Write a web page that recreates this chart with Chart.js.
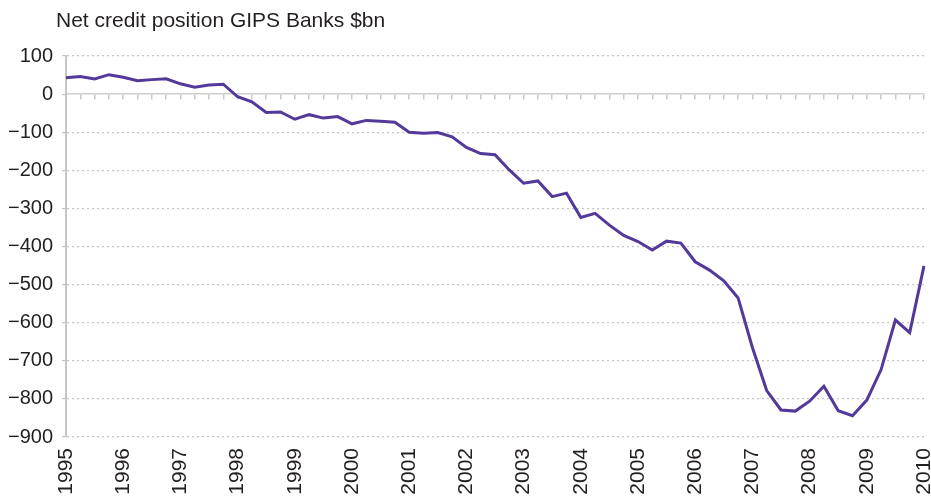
<!DOCTYPE html>
<html>
<head>
<meta charset="utf-8">
<script src="https://cdn.jsdelivr.net/npm/chart.js@4/dist/chart.umd.min.js"></script>
<style>
  html, body { margin: 0; padding: 0; background: #fff; }
  #wrap { position: relative; width: 931px; height: 499px; }
</style>
</head>
<body>
<div id="wrap"><canvas id="chart"></canvas></div>
<script>
// tick labels on the x axis (one per year, data is quarterly)
const years = ['1995', '1996', '1997', '1998', '1999', '2000', '2001', '2002',
  '2003', '2004', '2005', '2006', '2007', '2008', '2009', '2010'];
const quarters = ['Q1', 'Q2', 'Q3', 'Q4'];

// net credit position, $bn, quarterly from 1995 Q1 to 2010 Q1
const netCredit = [
  43, 46, 40, 51, 44, 35, 38, 40,
  27, 18, 24, 26, -7, -20, -48, -47,
  -66, -54, -63, -59, -78, -69, -71, -74,
  -100, -103, -101, -112, -140, -156, -159, -199,
  -234, -228, -269, -260, -324, -313, -344, -371,
  -387, -409, -386, -391, -440, -462, -490, -535,
  -665, -778, -829, -832, -806, -767, -831, -844,
  -803, -723, -593, -626, -451
];

const yTicks = [100, 0, -100, -200, -300, -400, -500, -600, -700, -800, -900];

const titleText = 'Net credit position GIPS Banks $bn';

const labels = [];
years.forEach((y, i) => {
  if (i === years.length - 1) labels.push(y + ' ' + quarters[0]);
  else quarters.forEach(q => labels.push(y + ' ' + q));
});

const font = 'Liberation Sans, Arial, Helvetica, sans-serif';
const textColor = '#231f20';

// title sits left of the plot edge, so draw it ourselves
const topTitle = {
  id: 'topTitle',
  afterDraw(chart) {
    const ctx = chart.ctx;
    ctx.save();
    ctx.font = '21px ' + font;
    ctx.fillStyle = textColor;
    ctx.textAlign = 'left';
    ctx.textBaseline = 'alphabetic';
    ctx.fillText(titleText, 56, 27);
    ctx.restore();
  }
};

new Chart(document.getElementById('chart'), {
  type: 'line',
  data: {
    labels: labels,
    datasets: [{
      data: netCredit,
      borderColor: '#52399a',
      borderWidth: 3,
      pointRadius: 0,
      tension: 0,
      xAxisID: 'x'
    }]
  },
  options: {
    responsive: true,
    maintainAspectRatio: false,
    animation: false,
    layout: { padding: { top: 56, right: 7, bottom: 0, left: 0 } },
    plugins: {
      legend: { display: false },
      tooltip: { enabled: false },
      title: { display: false }
    },
    scales: {
      x: {
        type: 'category',
        position: 'bottom',
        grid: { display: false, drawTicks: false },
        border: { display: false },
        ticks: {
          autoSkip: false,
          maxRotation: 90,
          minRotation: 90,
          padding: 11,
          color: textColor,
          font: { family: font, size: 21 },
          callback: function (val, i) {
            return i % 4 === 0 ? this.getLabelForValue(val).slice(0, 4) : null;
          }
        },
        afterFit: (s) => { s.height = 62; s.paddingLeft = 0; s.paddingRight = 0; }
      },
      // zero line with the quarterly tick marks
      x2: {
        type: 'category',
        position: { y: 0 },
        grid: { drawOnChartArea: false, drawTicks: true, tickLength: 5, color: '#c8c8c8', lineWidth: 1.5 },
        border: { display: true, color: '#cfcfcf', width: 1.5 },
        ticks: { display: false, autoSkip: false }
      },
      y: {
        min: -900,
        max: 100,
        afterBuildTicks: (s) => { s.ticks = yTicks.map(v => ({ value: v })); },
        grid: {
          color: (c) => c.tick && c.tick.value === 0 ? 'rgba(0,0,0,0)' : '#c4c4c4',
          tickColor: '#c4c4c4',
          tickLength: 4,
          lineWidth: 1.2
        },
        border: { display: true, color: '#c6c6c6', width: 2, dash: [2, 3] },
        ticks: {
          padding: 9,
          color: textColor,
          font: { family: font, size: 20 },
          callback: (v) => String(v).replace('-', '\u2212')
        },
        afterFit: (s) => { s.width = 66; s.paddingTop = 0; s.paddingBottom = 0; }
      }
    }
  },
  plugins: [topTitle]
});
</script>
</body>
</html>
